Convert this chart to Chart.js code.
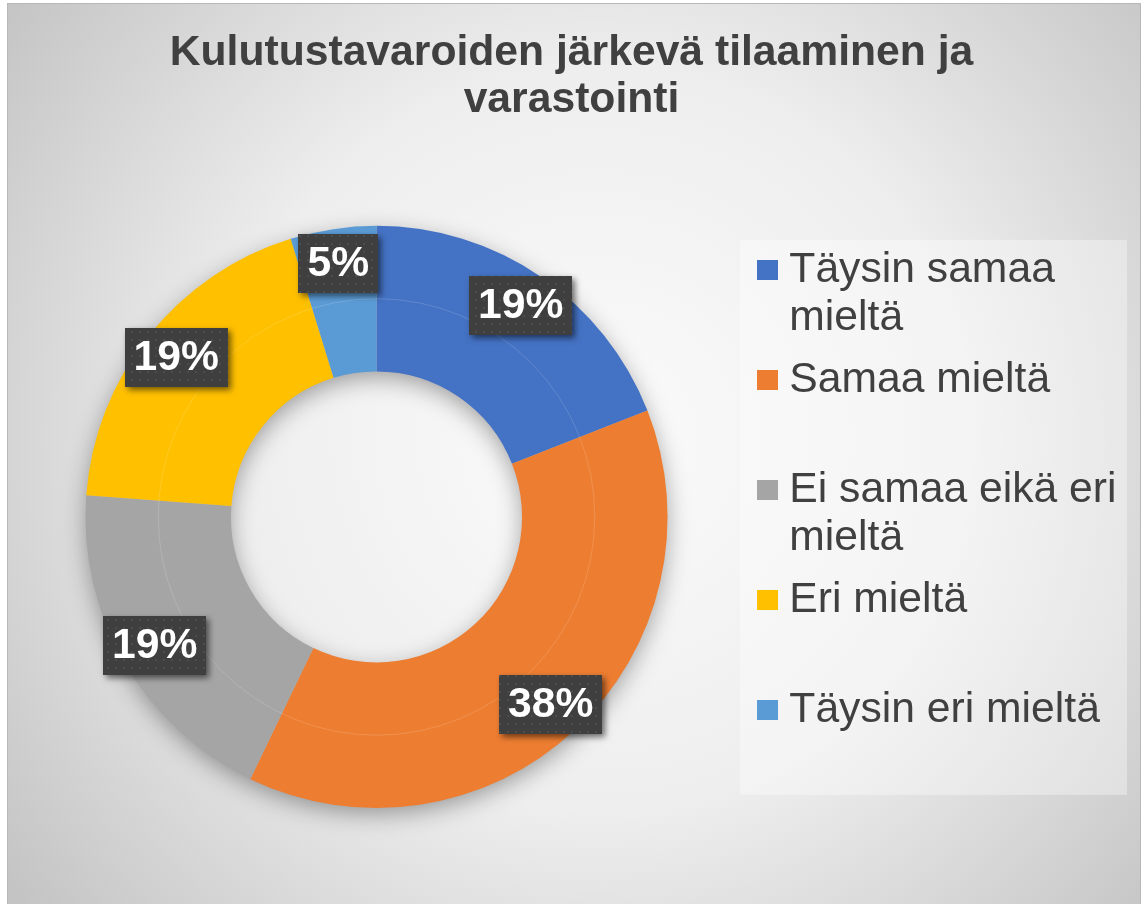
<!DOCTYPE html>
<html>
<head>
<meta charset="utf-8">
<script src="https://cdn.jsdelivr.net/npm/chart.js@4.4.1/dist/chart.umd.min.js"></script>
<style>
  html, body { margin: 0; padding: 0; background: #fff; }
  canvas { display: block; }
</style>
</head>
<body>
<canvas id="graphKulutus" width="1143" height="904"></canvas>
<script>
let titleLines = ['Kulutustavaroiden järkevä tilaaminen ja', 'varastointi'];
let labelsVastaus = ['Täysin samaa mieltä', 'Samaa mieltä', 'Ei samaa eikä eri mieltä', 'Eri mieltä', 'Täysin eri mieltä'];
let legendLines = [['Täysin samaa', 'mieltä'], ['Samaa mieltä', ''], ['Ei samaa eikä eri', 'mieltä'], ['Eri mieltä', ''], ['Täysin eri mieltä', '']];
let dataVastaus = [4, 8, 4, 4, 1];
let colorsVastaus = ['#4472C4', '#ED7D31', '#A5A5A5', '#FFC000', '#5B9BD5'];

const FONT = "'Liberation Sans', Arial, sans-serif";

// pieni neliö legendan merkiksi
function makeMarker(color) {
  const c = document.createElement('canvas');
  c.width = 21;
  c.height = 20;
  const g = c.getContext('2d');
  g.fillStyle = color;
  g.fillRect(0, 0, 21, 20);
  return c;
}

// pisteellinen tumma tausta prosenttilaatikoille
function makeDots() {
  const c = document.createElement('canvas');
  c.width = 8;
  c.height = 8;
  const g = c.getContext('2d');
  g.fillStyle = '#3f3f3f';
  g.fillRect(0, 0, 8, 8);
  g.fillStyle = '#4c4c4c';
  g.fillRect(3, 3, 2, 2);
  return c;
}

document.addEventListener('DOMContentLoaded', function () {
  var ctx = document.getElementById('graphKulutus').getContext('2d');
  var dots = ctx.createPattern(makeDots(), 'repeat');

  // taustan liukuväri ja legendan laatikko
  var tausta = {
    id: 'tausta',
    beforeDraw(chart) {
      const c = chart.ctx;
      c.save();
      c.fillStyle = '#fff';
      c.fillRect(0, 0, chart.width, chart.height);
      const g = c.createRadialGradient(600, 440, 0, 600, 440, 740);
      g.addColorStop(0, '#fbfbfb');
      g.addColorStop(0.5, '#eeeeee');
      g.addColorStop(1, '#c4c4c4');
      c.fillStyle = g;
      c.fillRect(7, 3, 1134, chart.height);
      c.strokeStyle = '#b8b8b8';
      c.lineWidth = 1;
      c.strokeRect(7.5, 3.5, 1133, chart.height);
      const lg = chart.legend;
      c.fillStyle = 'rgba(255,255,255,0.35)';
      c.fillRect(lg.left - 13, lg.top + 14, 387, 555);
      c.restore();
    }
  };

  // renkaan varjo
  var varjo = {
    id: 'varjo',
    beforeDatasetsDraw(chart) {
      const arc = chart.getDatasetMeta(0).data[0];
      if (!arc) return;
      const c = chart.ctx;
      c.save();
      c.beginPath();
      c.arc(arc.x, arc.y, arc.outerRadius - 2, 0, Math.PI * 2);
      c.arc(arc.x, arc.y, arc.innerRadius + 2, 0, Math.PI * 2, true);
      c.closePath();
      c.shadowColor = 'rgba(0,0,0,0.38)';
      c.shadowBlur = 24;
      c.shadowOffsetY = 7;
      c.fillStyle = '#bbbbbb';
      c.fill();
      c.restore();
    }
  };

  // prosenttien laatikot
  var etiketit = {
    id: 'etiketit',
    afterDatasetsDraw(chart) {
      const c = chart.ctx;
      const ds = chart.data.datasets[0];
      const total = ds.data.reduce((a, b) => a + b, 0);
      const meta = chart.getDatasetMeta(0);
      const a0 = meta.data[0];
      c.save();
      c.strokeStyle = 'rgba(255,255,255,0.15)';
      c.lineWidth = 1;
      c.beginPath();
      c.arc(a0.x, a0.y, (a0.outerRadius + a0.innerRadius) / 2, 0, Math.PI * 2);
      c.stroke();

      c.font = 'bold 42.67px ' + FONT;
      c.textAlign = 'center';
      c.textBaseline = 'middle';
      meta.data.forEach((arc, i) => {
        const p = arc.getProps(['x', 'y', 'startAngle', 'endAngle', 'innerRadius', 'outerRadius'], true);
        const mid = (p.startAngle + p.endAngle) / 2;
        const r = p.innerRadius + (p.outerRadius - p.innerRadius) * 0.76;
        const cx = p.x + Math.cos(mid) * r;
        const cy = p.y + Math.sin(mid) * r;
        const text = Math.round(ds.data[i] / total * 100) + '%';
        const w = c.measureText(text).width + 18;
        const h = 59;
        c.save();
        c.shadowColor = 'rgba(0,0,0,0.55)';
        c.shadowBlur = 6;
        c.shadowOffsetX = 3;
        c.shadowOffsetY = 3;
        c.fillStyle = dots;
        c.fillRect(Math.round(cx - w / 2), Math.round(cy - h / 2), Math.round(w), h);
        c.restore();
        c.fillStyle = '#ffffff';
        c.fillText(text, cx, cy + 1);
      });
      c.restore();
    }
  };

  // legendalle kiinteä leveys
  var legendanLeveys = {
    id: 'legendanLeveys',
    beforeLayout(chart) {
      const lg = chart.legend;
      if (!lg || lg._fixed) return;
      const fit = lg.fit;
      lg.fit = function () {
        fit.call(this);
        this.width = 390;
      };
      lg._fixed = true;
    }
  };

  var data = {
    labels: labelsVastaus,
    datasets: [{
      data: dataVastaus,
      backgroundColor: colorsVastaus,
      borderWidth: 0
    }]
  };

  var options = {
    responsive: false,
    animation: false,
    events: [],
    cutout: '50%',
    layout: { padding: { bottom: 96 } },
    plugins: {
      title: {
        display: true,
        text: titleLines,
        color: '#404040',
        font: { family: FONT, size: 42.67, weight: 'bold', lineHeight: 1.1 },
        padding: { top: 30, bottom: 102 }
      },
      legend: {
        position: 'right',
        align: 'center',
        fullSize: false,
        labels: {
          color: '#404040',
          font: { family: FONT, size: 42.67, lineHeight: 1.125 },
          usePointStyle: true,
          pointStyleWidth: 1,
          padding: 14,
          generateLabels(chart) {
            const ds = chart.data.datasets[0];
            return chart.data.labels.map((l, i) => ({
              text: legendLines[i],
              fillStyle: ds.backgroundColor[i],
              strokeStyle: ds.backgroundColor[i],
              lineWidth: 0,
              pointStyle: makeMarker(ds.backgroundColor[i]),
              fontColor: '#404040',
              hidden: false,
              index: i
            }));
          }
        }
      },
      tooltip: { enabled: false }
    }
  };

  var myChart = new Chart(ctx, {
    type: 'doughnut',
    data: data,
    options: options,
    plugins: [tausta, varjo, etiketit, legendanLeveys]
  });
});
</script>
</body>
</html>
